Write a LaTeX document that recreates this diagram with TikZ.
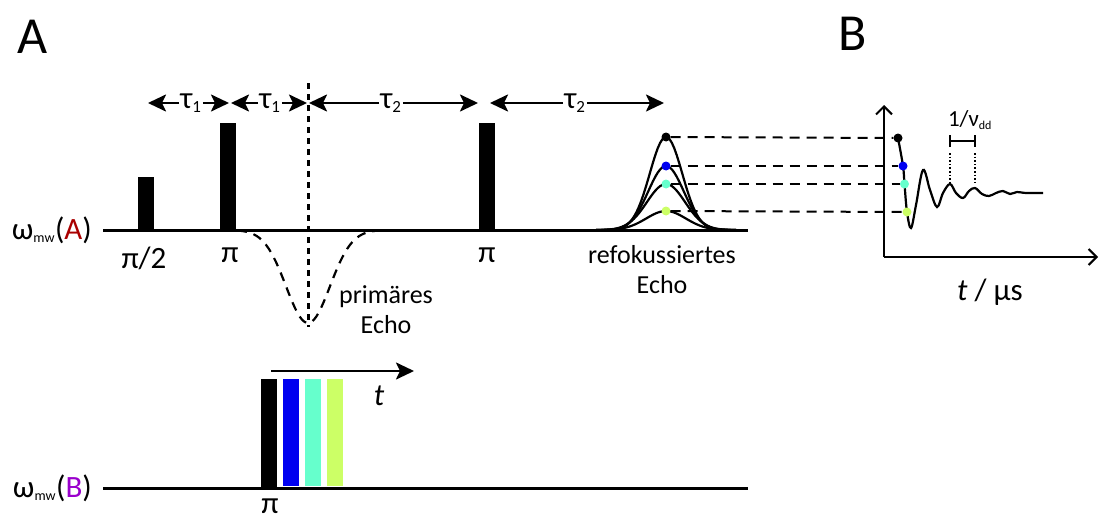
\documentclass[tikz,border=0pt]{standalone}
\usepackage{fontspec}
\setmainfont{Carlito}
\usetikzlibrary{arrows.meta}

\definecolor{pblue}{RGB}{0,0,240}
\definecolor{pcyan}{RGB}{102,255,204}
\definecolor{plime}{RGB}{204,255,102}
\definecolor{pred}{RGB}{170,0,0}
\definecolor{ppurple}{RGB}{153,0,204}

\tikzset{
  txt/.style={font=\fontsize{26}{30}\selectfont, inner sep=1pt},
  big/.style={font=\fontsize{31}{34}\selectfont, inner sep=1pt},
  arr/.style={line width=2.4pt, -{Stealth[length=18pt,width=17pt,inset=4pt]}},
  dot/.style={circle, fill, inner sep=0pt, minimum size=9pt},
  conn/.style={line width=2pt, dash pattern=on 10pt off 7pt}
}

\begin{document}
\begin{tikzpicture}[x=1pt, y=-1pt]

\useasboundingbox (0,0) rectangle (1099,519);

% panel labels
\node (labA) at (33,37) [font=\fontsize{52}{56}\selectfont] {A};
\node (labB) at (853,34) [font=\fontsize{52}{56}\selectfont] {B};

% base lines
\draw [line width=3pt] (103,230) -- (748,230);
\draw [line width=3pt] (103,488) -- (748,488);
\node (omA) at (93,230) [anchor=east, big] {ω\textsubscript{\fontsize{14}{15}\selectfont mw}(\textcolor{pred}{A})};
\node (omB) at (93,488) [anchor=east, big] {ω\textsubscript{\fontsize{14}{15}\selectfont mw}(\textcolor{ppurple}{B})};

% pulses A
\fill (138,177) rectangle (154,230);
\fill (220,123) rectangle (236,230);
\fill (479,123) rectangle (495,230);
\node (p1) at (144,258) [big] {π/2};
\node (p2) at (230,255) [big] {π};
\node (p3) at (487,255) [big] {π};

% primary echo
\draw [line width=3pt, dash pattern=on 6pt off 5pt] (308,83) -- (308,327);
\draw [line width=2.2pt, dash pattern=on 9pt off 7pt] plot[domain=-70:70, samples=60] ({308+\x},{230+93*exp(-(\x/31)^2)});
\node (prim) at (386,310) [txt, align=center] {primäres\\Echo};

% delays
\coordinate (d0) at (148,103);
\coordinate (d1) at (229,103);
\coordinate (d2) at (231,103);
\coordinate (d3) at (307,103);
\coordinate (d4) at (309,103);
\coordinate (d5) at (478,103);
\coordinate (d6) at (490,103);
\coordinate (d7) at (664,103);
\node (t1) at (191,103) [big] {τ\textsubscript{\fontsize{17}{18}\selectfont 1}};
\node (t2) at (270,103) [big] {τ\textsubscript{\fontsize{17}{18}\selectfont 1}};
\node (t3) at (391,103) [big] {τ\textsubscript{\fontsize{17}{18}\selectfont 2}};
\node (t4) at (575,103) [big] {τ\textsubscript{\fontsize{17}{18}\selectfont 2}};
\draw [arr] (t1) -- (d0);
\draw [arr] (t1) -- (d1);
\draw [arr] (t2) -- (d2);
\draw [arr] (t2) -- (d3);
\draw [arr] (t3) -- (d4);
\draw [arr] (t3) -- (d5);
\draw [arr] (t4) -- (d6);
\draw [arr] (t4) -- (d7);

% refocused echoes
\draw [line width=2.2pt] plot[domain=-70:70, samples=60] ({666+\x},{230-93*exp(-(\x/23)^2)});
\draw [line width=2.2pt] plot[domain=-70:70, samples=60] ({666+\x},{230-64*exp(-(\x/25)^2)});
\draw [line width=2.2pt] plot[domain=-70:70, samples=60] ({666+\x},{230-46*exp(-(\x/27)^2)});
\draw [line width=2.2pt] plot[domain=-70:70, samples=60] ({666+\x},{230-19*exp(-(\x/28)^2)});
\node (e1) at (666,137) [dot, black] {};
\node (e2) at (666,166) [dot, pblue] {};
\node (e3) at (666,184) [dot, pcyan] {};
\node (e4) at (666,211) [dot, plime] {};
\node (refo) at (662,270) [txt, align=center] {refokussiertes\\Echo};

% dipolar trace
\draw [line width=2pt, -{Straight Barb[length=8pt,width=16pt]}] (884,257) -- (884,105);
\draw [line width=2pt, -{Straight Barb[length=8pt,width=16pt]}] (884,257) -- (1098,257);
\draw [line width=2.2pt] plot[smooth, tension=0.6] coordinates {(898,138) (903,166) (904.5,184) (907,212) (911,228) (916,205) (923,170) (930,190) (937,207) (943,193) (950,184) (956,193) (963,198) (969,191) (975,188) (982,194) (989,196) (996,193) (1003,191) (1010,194) (1017,192) (1026,193) (1043,193)};
\node (b1) at (898,138) [dot, black] {};
\node (b2) at (903,166) [dot, pblue] {};
\node (b3) at (904.5,184) [dot, pcyan] {};
\node (b4) at (907,212) [dot, plime] {};
\draw [conn] (e1) -- (b1);
\draw [conn] (e2) -- (b2);
\draw [conn] (e3) -- (b3);
\draw [conn] (e4) -- (b4);
\draw [line width=2pt, {Bar[width=12pt]}-{Bar[width=12pt]}] (949,141) -- (976,141);
\draw [line width=1.6pt, dotted] (950,153) -- (950,183);
\draw [line width=1.6pt, dotted] (975,153) -- (975,183);
\node (nu) at (970,120) [txt, font=\fontsize{23}{26}\selectfont] {1/ν\textsubscript{\fontsize{12}{13}\selectfont dd}};
\node (tax) at (990,292) [big] {\textit{t} / μs};

% pump pulses B
\fill [black] (261,379) rectangle (277,488);
\fill [pblue] (283,379) rectangle (299,486);
\fill [pcyan] (305,379) rectangle (321,486);
\fill [plime] (327,379) rectangle (343,486);
\node (p4) at (270,506) [big] {π};
\coordinate (s0) at (271,371);
\coordinate (s1) at (414,371);
\draw [arr] (s0) -- (s1);
\node (tb) at (379,396) [big] {\textit{t}};

\end{tikzpicture}
\end{document}
